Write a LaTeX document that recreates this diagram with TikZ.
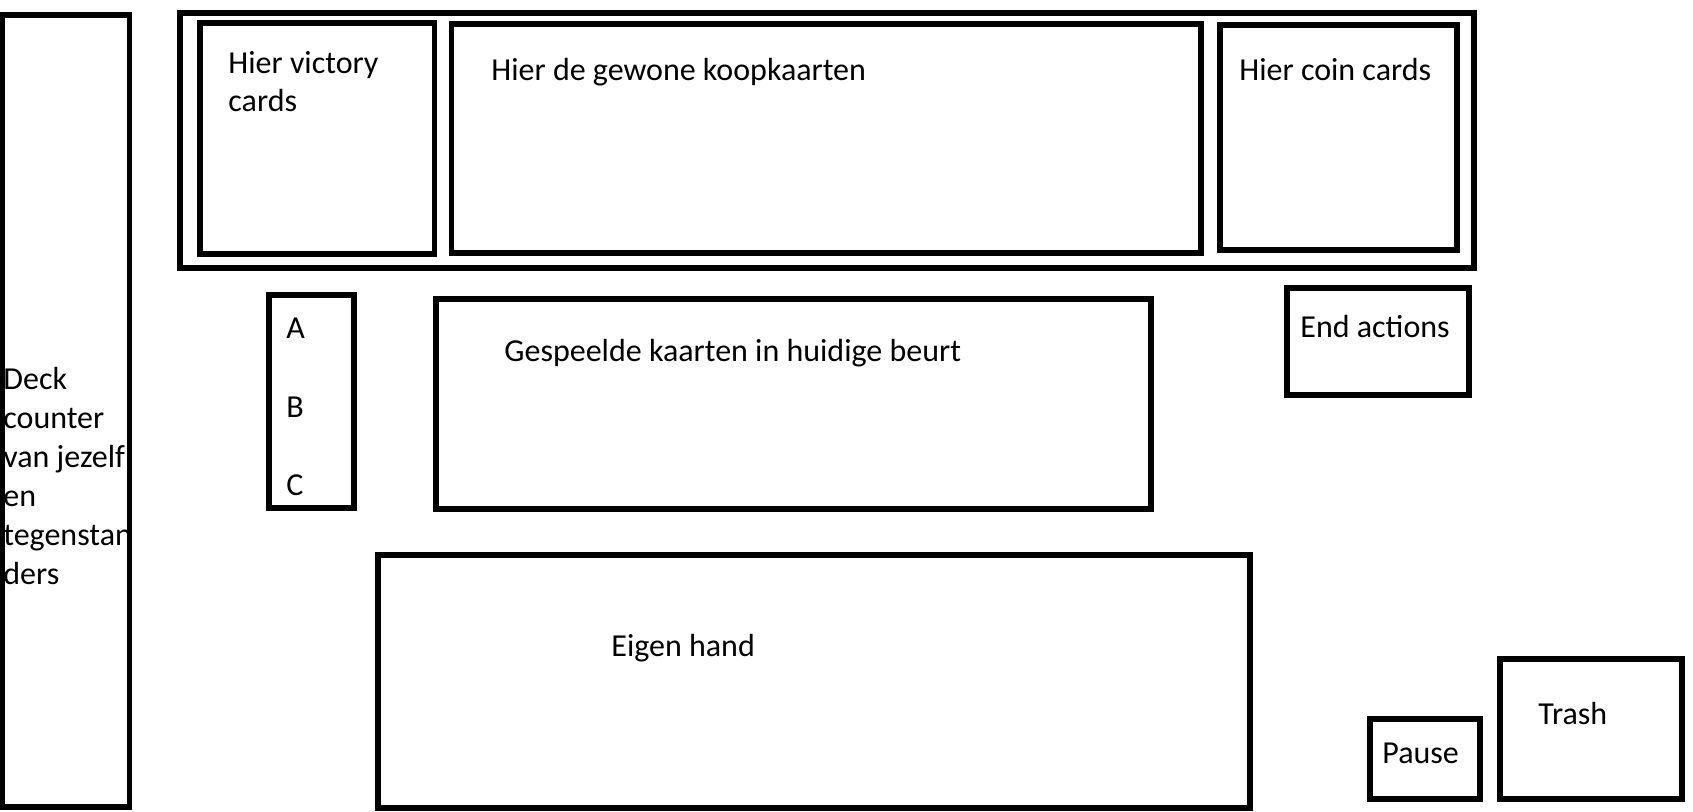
\documentclass[tikz,border=0pt]{standalone}
\usepackage{fontspec}
\setmainfont{Carlito}
\begin{document}
\begin{tikzpicture}[x=0.5pt,y=-0.5pt,
    box/.style={draw,line width=2.6pt},
    lbl/.style={anchor=base west,inner sep=0pt,font=\fontsize{16}{19}\selectfont}]
  \useasboundingbox (0,0) rectangle (1693,812);
  % deck counter column (text runs under the right border)
  \foreach \t [count=\i] in {Deck,counter,van jezelf,en,tegenstan,ders}
    \node[lbl] (deck\i) at (3,{390+38.9*(\i-1)}) {\t};
  \draw[box] (2,15) rectangle (129.5,807);
  % supply row
  \draw[box] (180,13) rectangle (1474,268);
  \draw[box] (200,23) rectangle (434.5,254);
  \draw[box] (451.5,24) rectangle (1201,253);
  \draw[box] (1220,25) rectangle (1457,250);
  \node[lbl] (victory1) at (228,74) {Hier victory};
  \node[lbl] (victory2) at (228,112) {cards};
  \node[lbl] (koop) at (491,81) {Hier de gewone koopkaarten};
  \node[lbl] (coin) at (1239,81) {Hier coin cards};
  % middle row
  \draw[box] (269,295) rectangle (354,508);
  \foreach \t [count=\i] in {A,B,C}
    \node[lbl] (abc\i) at (286,{339+78.5*(\i-1)}) {\t};
  \draw[box] (436,299) rectangle (1151,509);
  \node[lbl] (played) at (504,362) {Gespeelde kaarten in huidige beurt};
  \draw[box] (1287,288) rectangle (1469,395);
  \node[lbl] (endact) at (1300,338) {End actions};
  % bottom row
  \draw[box] (378,555) rectangle (1250,808);
  \node[lbl] (hand) at (611,656) {Eigen hand};
  \draw[box] (1370,719) rectangle (1480,799);
  \node[lbl] (pause) at (1382,763) {Pause};
  \draw[box] (1500,659) rectangle (1682,799);
  \node[lbl] (trash) at (1538,724) {Trash};
\end{tikzpicture}
\end{document}
